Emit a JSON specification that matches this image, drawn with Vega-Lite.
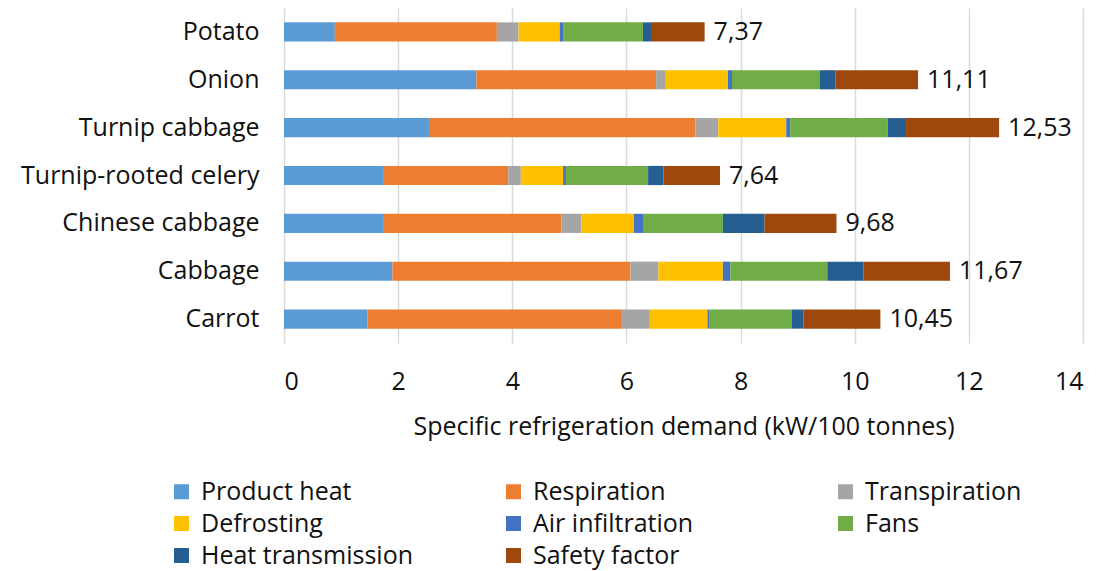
{
  "$schema": "https://vega.github.io/schema/vega-lite/v6.json",
  "autosize": {"type": "none"},
  "width": 799,
  "height": 335,
  "padding": {"left": 284, "top": 8, "right": 17, "bottom": 228},
  "background": "white",
  "config": {
    "font": "Open Sans",
    "view": {"stroke": null},
    "axis": {"labelFont": "Open Sans", "titleFont": "Open Sans", "labelColor": "#111", "titleColor": "#111"}
  },
  "datasets": {
    "parts": [
      {"crop": "Potato", "component": "Product heat", "value": 0.89},
      {"crop": "Potato", "component": "Respiration", "value": 2.84},
      {"crop": "Potato", "component": "Transpiration", "value": 0.38},
      {"crop": "Potato", "component": "Defrosting", "value": 0.72},
      {"crop": "Potato", "component": "Air infiltration", "value": 0.06},
      {"crop": "Potato", "component": "Fans", "value": 1.40},
      {"crop": "Potato", "component": "Heat transmission", "value": 0.14},
      {"crop": "Potato", "component": "Safety factor", "value": 0.94},
      {"crop": "Onion", "component": "Product heat", "value": 3.37},
      {"crop": "Onion", "component": "Respiration", "value": 3.15},
      {"crop": "Onion", "component": "Transpiration", "value": 0.17},
      {"crop": "Onion", "component": "Defrosting", "value": 1.09},
      {"crop": "Onion", "component": "Air infiltration", "value": 0.07},
      {"crop": "Onion", "component": "Fans", "value": 1.54},
      {"crop": "Onion", "component": "Heat transmission", "value": 0.27},
      {"crop": "Onion", "component": "Safety factor", "value": 1.45},
      {"crop": "Turnip cabbage", "component": "Product heat", "value": 2.54},
      {"crop": "Turnip cabbage", "component": "Respiration", "value": 4.67},
      {"crop": "Turnip cabbage", "component": "Transpiration", "value": 0.40},
      {"crop": "Turnip cabbage", "component": "Defrosting", "value": 1.19},
      {"crop": "Turnip cabbage", "component": "Air infiltration", "value": 0.07},
      {"crop": "Turnip cabbage", "component": "Fans", "value": 1.71},
      {"crop": "Turnip cabbage", "component": "Heat transmission", "value": 0.32},
      {"crop": "Turnip cabbage", "component": "Safety factor", "value": 1.63},
      {"crop": "Turnip-rooted celery", "component": "Product heat", "value": 1.75},
      {"crop": "Turnip-rooted celery", "component": "Respiration", "value": 2.18},
      {"crop": "Turnip-rooted celery", "component": "Transpiration", "value": 0.22},
      {"crop": "Turnip-rooted celery", "component": "Defrosting", "value": 0.74},
      {"crop": "Turnip-rooted celery", "component": "Air infiltration", "value": 0.05},
      {"crop": "Turnip-rooted celery", "component": "Fans", "value": 1.44},
      {"crop": "Turnip-rooted celery", "component": "Heat transmission", "value": 0.27},
      {"crop": "Turnip-rooted celery", "component": "Safety factor", "value": 0.99},
      {"crop": "Chinese cabbage", "component": "Product heat", "value": 1.75},
      {"crop": "Chinese cabbage", "component": "Respiration", "value": 3.11},
      {"crop": "Chinese cabbage", "component": "Transpiration", "value": 0.35},
      {"crop": "Chinese cabbage", "component": "Defrosting", "value": 0.92},
      {"crop": "Chinese cabbage", "component": "Air infiltration", "value": 0.16},
      {"crop": "Chinese cabbage", "component": "Fans", "value": 1.40},
      {"crop": "Chinese cabbage", "component": "Heat transmission", "value": 0.73},
      {"crop": "Chinese cabbage", "component": "Safety factor", "value": 1.26},
      {"crop": "Cabbage", "component": "Product heat", "value": 1.90},
      {"crop": "Cabbage", "component": "Respiration", "value": 4.17},
      {"crop": "Cabbage", "component": "Transpiration", "value": 0.49},
      {"crop": "Cabbage", "component": "Defrosting", "value": 1.13},
      {"crop": "Cabbage", "component": "Air infiltration", "value": 0.13},
      {"crop": "Cabbage", "component": "Fans", "value": 1.70},
      {"crop": "Cabbage", "component": "Heat transmission", "value": 0.63},
      {"crop": "Cabbage", "component": "Safety factor", "value": 1.52},
      {"crop": "Carrot", "component": "Product heat", "value": 1.46},
      {"crop": "Carrot", "component": "Respiration", "value": 4.46},
      {"crop": "Carrot", "component": "Transpiration", "value": 0.49},
      {"crop": "Carrot", "component": "Defrosting", "value": 1.01},
      {"crop": "Carrot", "component": "Air infiltration", "value": 0.04},
      {"crop": "Carrot", "component": "Fans", "value": 1.44},
      {"crop": "Carrot", "component": "Heat transmission", "value": 0.20},
      {"crop": "Carrot", "component": "Safety factor", "value": 1.35}
    ],
    "totals": [
      {"crop": "Potato", "total": 7.37, "label": "7,37"},
      {"crop": "Onion", "total": 11.11, "label": "11,11"},
      {"crop": "Turnip cabbage", "total": 12.53, "label": "12,53"},
      {"crop": "Turnip-rooted celery", "total": 7.64, "label": "7,64"},
      {"crop": "Chinese cabbage", "total": 9.68, "label": "9,68"},
      {"crop": "Cabbage", "total": 11.67, "label": "11,67"},
      {"crop": "Carrot", "total": 10.45, "label": "10,45"}
    ]
  },
  "layer": [
    {
      "data": {"name": "parts"},
      "transform": [
        {"calculate": "indexof(['Product heat', 'Respiration', 'Transpiration', 'Defrosting', 'Air infiltration', 'Fans', 'Heat transmission', 'Safety factor'], datum.component)", "as": "stackOrder"}
      ],
      "mark": {"type": "bar"},
      "encoding": {
        "y": {
          "field": "crop", "type": "nominal",
          "sort": ["Potato", "Onion", "Turnip cabbage", "Turnip-rooted celery", "Chinese cabbage", "Cabbage", "Carrot"],
          "scale": {"paddingInner": 0.6, "paddingOuter": 0.3},
          "axis": {"title": null, "domain": false, "ticks": false, "labelFontSize": 25, "labelPadding": 25, "labelLimit": 300}
        },
        "x": {
          "field": "value", "type": "quantitative",
          "stack": "zero",
          "scale": {"domain": [0, 14], "nice": false},
          "axis": {
            "title": "Specific refrigeration demand (kW/100 tonnes)",
            "values": [0, 2, 4, 6, 8, 10, 12, 14],
            "format": "d",
            "domain": false, "ticks": false,
            "grid": true, "gridColor": "#D9D9D9", "gridWidth": 1.5,
            "labelFontSize": 25, "labelPadding": 26,
            "titleFontSize": 25, "titleFontWeight": "normal", "titlePadding": 20
          }
        },
        "color": {
          "field": "component", "type": "nominal",
          "sort": ["Product heat", "Respiration", "Transpiration", "Defrosting", "Air infiltration", "Fans", "Heat transmission", "Safety factor"],
          "scale": {
            "domain": ["Product heat", "Respiration", "Transpiration", "Defrosting", "Air infiltration", "Fans", "Heat transmission", "Safety factor"],
            "range": ["#5B9BD5", "#ED7D31", "#A5A5A5", "#FFC000", "#4472C4", "#70AD47", "#255E91", "#9E480E"]
          },
          "legend": {
            "title": null,
            "orient": "none",
            "legendX": -115,
            "legendY": 471,
            "direction": "horizontal",
            "columns": 3,
            "gridAlign": "all",
            "columnPadding": 88,
            "rowPadding": 6,
            "symbolType": "square",
            "symbolSize": 225,
            "symbolStrokeWidth": 0,
            "labelFontSize": 25,
            "labelOffset": 7,
            "labelColor": "#111",
            "labelFont": "Open Sans",
            "labelLimit": 300
          }
        },
        "order": {"field": "stackOrder", "type": "quantitative"}
      }
    },
    {
      "data": {"name": "totals"},
      "mark": {"type": "text", "align": "left", "baseline": "middle", "dx": 9, "fontSize": 25, "color": "#111", "font": "Open Sans"},
      "encoding": {
        "y": {"field": "crop", "type": "nominal", "sort": ["Potato", "Onion", "Turnip cabbage", "Turnip-rooted celery", "Chinese cabbage", "Cabbage", "Carrot"]},
        "x": {"field": "total", "type": "quantitative"},
        "text": {"field": "label"}
      }
    }
  ]
}
